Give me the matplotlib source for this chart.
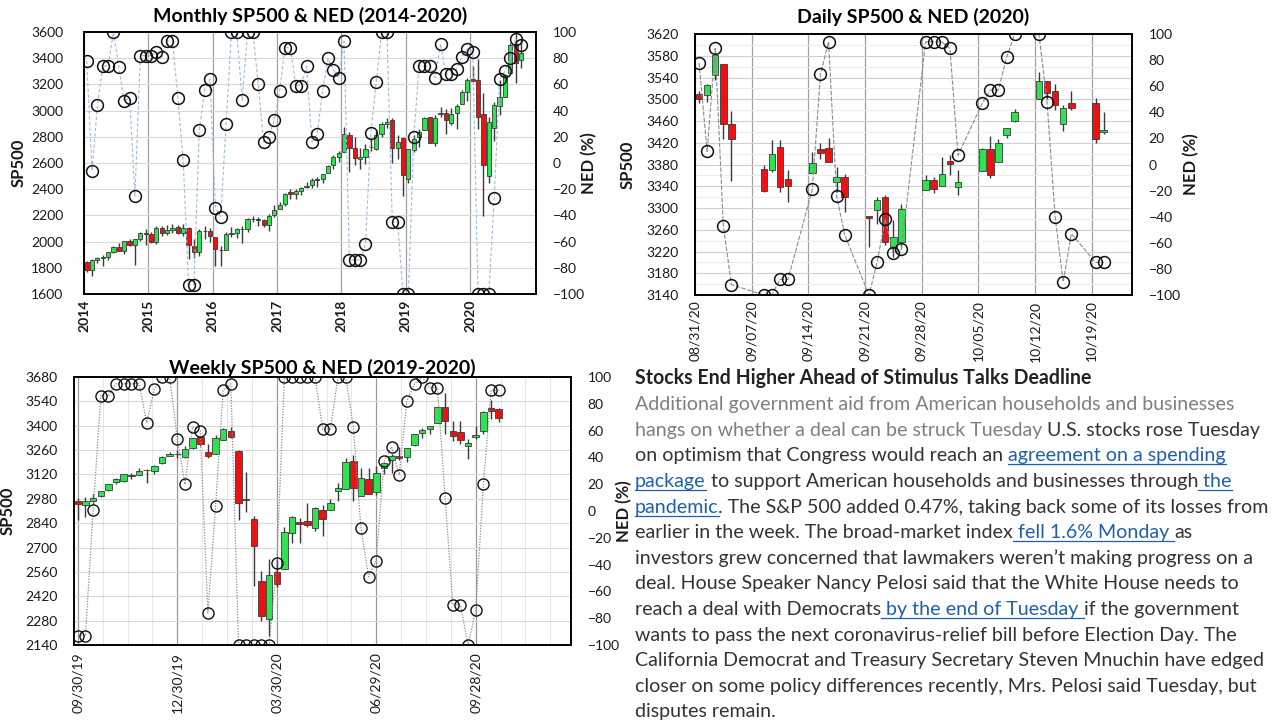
import numpy as np
import matplotlib
matplotlib.use('Agg')
import matplotlib.pyplot as plt
from matplotlib.lines import Line2D

plt.rcParams['font.family'] = ['Lato', 'DejaVu Sans']

# ---------------- data ----------------
# monthly S&P 500, Jan 2014 .. Oct 2020
m_years = ['2014', '2015', '2016', '2017', '2018', '2019', '2020']
m_open = [1845.9, 1782.7, 1857.7, 1874.0, 1884.4, 1923.9, 1962.3, 1929.8, 2004.1, 1971.4, 2018.2, 2065.8,
          2058.9, 1996.7, 2105.2, 2067.6, 2085.9, 2108.6, 2067.0, 2104.5, 1970.1, 1919.7, 2080.8, 2082.9,
          2038.2, 1936.9, 1937.1, 2056.6, 2067.2, 2093.9, 2099.3, 2173.2, 2171.3, 2164.3, 2128.7, 2200.2,
          2251.6, 2285.6, 2380.1, 2362.3, 2388.5, 2415.6, 2431.4, 2477.1, 2474.4, 2521.2, 2583.2, 2645.1,
          2683.7, 2816.5, 2715.2, 2633.5, 2643.0, 2718.7, 2705.0, 2821.2, 2897.0, 2926.3, 2717.6, 2790.5,
          2477.0, 2702.3, 2798.2, 2848.6, 2952.3, 2751.5, 2971.4, 2980.3, 2909.0, 2983.7, 3050.7, 3143.9,
          3244.7, 3235.7, 2974.3, 2498.1, 2869.1, 3038.8, 3105.9, 3288.3, 3507.4, 3385.9]
m_high = [1850.8, 1867.9, 1884.0, 1897.3, 1924.0, 1968.2, 1991.4, 2005.0, 2019.3, 2018.2, 2075.8, 2093.6,
          2072.4, 2119.6, 2117.5, 2125.9, 2134.7, 2129.9, 2132.8, 2112.7, 2020.9, 2094.3, 2116.5, 2104.3,
          2038.2, 1963.0, 2072.2, 2111.1, 2103.5, 2120.6, 2177.1, 2193.8, 2187.9, 2169.6, 2214.1, 2277.5,
          2301.0, 2371.5, 2401.0, 2398.2, 2418.7, 2453.8, 2484.0, 2490.9, 2519.4, 2583.0, 2657.7, 2695.0,
          2872.9, 2836.0, 2801.9, 2717.5, 2742.2, 2791.5, 2848.0, 2916.5, 2940.9, 2939.9, 2815.2, 2800.2,
          2709.0, 2813.5, 2860.3, 2949.5, 2954.1, 2964.2, 3028.0, 3013.6, 3022.0, 3050.1, 3154.3, 3247.9,
          3337.8, 3393.5, 3136.7, 2954.9, 3068.7, 3233.1, 3280.0, 3514.8, 3588.1, 3549.9]
m_low = [1770.5, 1737.9, 1834.4, 1814.4, 1859.8, 1916.0, 1930.7, 1904.8, 1964.0, 1820.7, 2001.0, 1972.6,
         1988.1, 1980.9, 2039.7, 2048.4, 2067.9, 2056.3, 2044.0, 1867.0, 1871.9, 1893.7, 2019.4, 1993.3,
         1812.3, 1810.1, 1937.1, 2033.8, 2025.9, 1991.7, 2074.0, 2147.6, 2119.1, 2114.7, 2083.8, 2187.4,
         2245.1, 2271.7, 2322.3, 2329.0, 2352.7, 2405.7, 2407.7, 2417.4, 2446.6, 2520.4, 2557.5, 2605.5,
         2682.4, 2532.7, 2585.9, 2553.8, 2594.6, 2692.0, 2699.0, 2796.3, 2864.1, 2603.5, 2631.1, 2346.6,
         2444.0, 2681.8, 2722.3, 2848.6, 2750.5, 2728.8, 2952.2, 2822.1, 2891.9, 2855.9, 3050.7, 3070.3,
         3214.6, 2855.8, 2191.9, 2447.5, 2766.6, 2965.7, 3101.2, 3284.5, 3209.5, 3323.7]
m_close = [1782.6, 1859.5, 1872.3, 1884.0, 1923.6, 1960.2, 1930.7, 2003.4, 1972.3, 2018.1, 2067.6, 2058.9,
           1995.0, 2104.5, 2067.9, 2085.5, 2107.4, 2063.1, 2103.8, 1972.2, 1920.0, 2079.4, 2080.4, 2043.9,
           1940.2, 1932.2, 2059.7, 2065.3, 2097.0, 2098.9, 2173.6, 2171.0, 2168.3, 2126.2, 2199.0, 2238.8,
           2278.9, 2363.6, 2362.7, 2384.2, 2411.8, 2423.4, 2470.3, 2471.7, 2519.4, 2575.3, 2647.6, 2673.6,
           2823.8, 2713.8, 2640.9, 2648.1, 2705.3, 2718.4, 2816.3, 2901.5, 2914.0, 2711.7, 2760.2, 2506.9,
           2704.1, 2784.5, 2834.4, 2945.8, 2752.1, 2941.8, 2980.4, 2926.5, 2976.7, 3037.6, 3141.0, 3230.8,
           3225.5, 2954.2, 2584.6, 2912.4, 3044.3, 3100.3, 3271.1, 3500.3, 3363.0, 3443.1]
m_ned = [78, -6, 44, 74, 74, 100, 73, 47, 50, -25, 82, 82,
         82, 85, 81, 93, 93, 50, 2, -93, -93, 25, 56, 64,
         -34, -41, 30, 100, 100, 48, 100, 100, 60, 16, 20, 33,
         55, 88, 88, 59, 59, 74, 16, 22, 55, 80, 71, 65,
         93, -74, -74, -74, -62, 23, 62, 100, 100, -45, -45, -100,
         -100, 20, 74, 74, 74, 65, 91, 68, 68, 72, 81, 87,
         85, -100, -100, -100, -27, 64, 70, 80, 95, 90]

# daily S&P 500, 08/31/20 .. 10/20/20
d_dates = ['2020-08-31', '2020-09-01', '2020-09-02', '2020-09-03', '2020-09-04',
           '2020-09-08', '2020-09-09', '2020-09-10', '2020-09-11',
           '2020-09-14', '2020-09-15', '2020-09-16', '2020-09-17', '2020-09-18',
           '2020-09-21', '2020-09-22', '2020-09-23', '2020-09-24', '2020-09-25',
           '2020-09-28', '2020-09-29', '2020-09-30', '2020-10-01', '2020-10-02',
           '2020-10-05', '2020-10-06', '2020-10-07', '2020-10-08', '2020-10-09',
           '2020-10-12', '2020-10-13', '2020-10-14', '2020-10-15', '2020-10-16',
           '2020-10-19', '2020-10-20']
d_open = [3509.7, 3507.4, 3543.8, 3564.7, 3453.6, 3371.9, 3369.8, 3412.6, 3352.7, 3363.6, 3407.7, 3411.2,
          3346.9, 3357.4, 3285.6, 3295.8, 3320.1, 3226.1, 3236.7, 3333.9, 3350.9, 3341.2, 3385.9, 3338.9,
          3367.3, 3408.7, 3384.6, 3434.3, 3459.7, 3500.0, 3534.0, 3515.5, 3453.7, 3493.5, 3493.7, 3439.4]
d_high = [3514.8, 3528.0, 3588.1, 3564.9, 3479.2, 3380.0, 3424.8, 3425.6, 3369.0, 3402.9, 3419.5, 3428.9,
          3375.2, 3362.3, 3285.6, 3320.3, 3323.4, 3278.7, 3306.9, 3360.7, 3357.9, 3393.6, 3397.2, 3369.1,
          3409.6, 3431.6, 3426.3, 3447.3, 3482.3, 3549.9, 3534.0, 3527.9, 3489.1, 3515.8, 3502.4, 3476.9]
d_low = [3493.5, 3494.6, 3535.2, 3427.4, 3349.6, 3329.3, 3366.8, 3329.3, 3310.5, 3363.6, 3389.2, 3384.5,
         3328.8, 3292.4, 3229.1, 3271.0, 3232.6, 3209.5, 3228.4, 3332.9, 3327.5, 3340.5, 3361.4, 3323.7,
         3367.3, 3354.5, 3384.6, 3428.2, 3458.1, 3499.6, 3500.9, 3480.6, 3441.4, 3480.5, 3419.9, 3435.7]
d_close = [3500.3, 3526.7, 3580.8, 3455.1, 3427.0, 3331.8, 3399.0, 3339.2, 3341.0, 3383.5, 3401.2, 3385.5,
           3357.0, 3319.5, 3281.1, 3315.6, 3236.9, 3246.6, 3298.5, 3351.6, 3335.5, 3363.0, 3380.8, 3348.4,
           3408.6, 3361.0, 3419.4, 3446.8, 3477.1, 3534.2, 3511.9, 3488.7, 3483.3, 3483.8, 3426.9, 3443.1]
d_ned = [78, 10, 89, -47, -92, -100, -100, -88, -88, -19, 69, 94, -24, -54, -100, -75, -42, -68,
         -65, 94, 94, 94, 89, 7, 47, 57, 57, 82, 100, 100, 48, -40, -90, -53, -75, -75]

# weekly S&P 500, week of 09/30/19 .. week of 10/19/20
w_ticks = ['09/30/19', '12/30/19', '03/30/20', '06/29/20', '09/28/20']
w_open = [2967.1, 2944.2, 2965.8, 2996.5, 3032.1, 3079.0, 3080.3, 3117.9, 3117.4, 3143.9, 3141.9, 3183.6,
          3226.1, 3240.1, 3217.6, 3271.1, 3333.1, 3247.2, 3235.7, 3318.3, 3369.0, 3257.6, 2974.3, 2863.9,
          2508.6, 2290.7, 2559.0, 2578.3, 2782.5, 2845.6, 2854.7, 2815.0, 2915.5, 2913.9, 3025.2, 3038.8,
          3199.9, 2993.8, 3094.4, 3018.6, 3155.3, 3205.1, 3224.3, 3219.8, 3288.3, 3356.0, 3380.9, 3418.1,
          3509.7, 3371.9, 3363.6, 3285.6, 3333.9, 3367.3, 3500.0, 3493.7]
w_high = [2983.9, 2993.3, 3008.3, 3027.4, 3066.9, 3097.8, 3120.5, 3127.6, 3154.3, 3150.6, 3176.3, 3225.6,
          3247.9, 3258.1, 3283.0, 3329.9, 3337.8, 3293.5, 3348.0, 3385.1, 3393.5, 3259.8, 3136.7, 2882.6,
          2563.0, 2637.0, 2631.8, 2818.6, 2879.2, 2871.6, 2954.9, 2932.2, 2945.8, 2980.3, 3068.7, 3211.7,
          3233.1, 3155.5, 3155.3, 3165.8, 3190.0, 3238.3, 3279.3, 3272.0, 3352.0, 3387.9, 3400.0, 3509.2,
          3588.1, 3425.6, 3428.9, 3323.4, 3397.2, 3482.3, 3549.9, 3502.4]
w_low = [2855.9, 2873.9, 2952.9, 2991.2, 3023.2, 3065.9, 3078.3, 3091.4, 3115.3, 3070.3, 3121.5, 3182.7,
         3226.1, 3212.0, 3214.6, 3263.5, 3281.5, 3214.6, 3235.7, 3315.5, 3328.5, 2855.8, 2901.5, 2478.9,
         2280.5, 2191.9, 2473.4, 2574.6, 2727.1, 2727.1, 2820.8, 2797.9, 2766.6, 2913.9, 2970.0, 3038.8,
         2965.7, 2993.8, 3007.4, 3000.1, 3125.0, 3127.7, 3200.7, 3191.0, 3284.5, 3327.0, 3354.7, 3418.1,
         3349.6, 3310.5, 3292.4, 3209.5, 3323.7, 3354.5, 3441.4, 3419.9]
w_close = [2952.0, 2970.3, 2986.2, 3022.6, 3066.9, 3093.1, 3120.5, 3110.3, 3141.0, 3145.9, 3168.8, 3221.2,
           3240.0, 3234.9, 3265.4, 3329.6, 3295.5, 3225.5, 3327.7, 3380.2, 3337.8, 2954.2, 2972.4, 2711.0,
           2304.9, 2541.5, 2488.7, 2789.8, 2874.6, 2836.7, 2830.7, 2929.8, 2863.7, 2955.5, 3044.3, 3193.9,
           3041.3, 3097.7, 3009.1, 3130.0, 3185.0, 3224.7, 3215.6, 3271.1, 3351.3, 3372.9, 3397.2, 3508.0,
           3427.0, 3341.0, 3319.5, 3298.5, 3348.4, 3477.1, 3483.8, 3443.1]
w_ned = [-93, -93, 1, 86, 86, 95, 95, 95, 95, 66, 91, 100, 100, 54, 20, 63, 60, -76, 4, 90, 95,
         -100, -100, -100, -100, -100, -39, 100, 100, 100, 100, 100, 61, 61, 100, 100, 63, -13, -49,
         -37, 37, 48, 27, 82, 95, 100, 92, 92, 10, -70, -70, -100, -74, 20, 90, 90]

GREEN = '#2fe24f'
RED = '#ee1111'
EDGE = '#3a3a3a'
TXT = '#1a1a1a'

W, H = 1280, 720
fig = plt.figure(figsize=(12.8, 7.2), dpi=100)


def px_axes(l, t, r, b):
    return fig.add_axes([l / W, 1 - b / H, (r - l) / W, (b - t) / H])


def candles(ax, x, o, h, l, c, w, minh):
    o, h, l, c = map(np.asarray, (o, h, l, c))
    up = c >= o
    ax.vlines(x, l, h, color=EDGE, lw=1.0, zorder=2)
    bottom = np.minimum(o, c)
    height = np.maximum(np.abs(c - o), minh)
    ax.bar(x, height, w, bottom, color=np.where(up, GREEN, RED),
           edgecolor=EDGE, linewidth=0.6, zorder=3)


def frame(ax, ax2, lpad, rpad, xpad, bold_x=False):
    for a in (ax, ax2):
        for s in a.spines.values():
            s.set_color('black')
            s.set_linewidth(1.2)
    ax.tick_params(axis='y', length=0, labelsize=10, pad=lpad, colors=TXT)
    ax.tick_params(axis='x', length=0, labelsize=10, pad=xpad, colors=TXT)
    ax2.tick_params(axis='y', length=0, labelsize=10, pad=rpad, colors=TXT)
    ax2.set_ylim(-100, 100)
    ax2.set_yticks(range(-100, 101, 20))
    ax.set_axisbelow(True)
    if bold_x:
        for t in ax.get_xticklabels():
            t.set_fontweight('bold')


def labels(ax, ax2, lx, rx):
    ax.set_ylabel('SP500', fontsize=12, fontweight='bold', color=TXT)
    ax.yaxis.set_label_coords(lx, 0.5)
    ax2.set_ylabel('NED (%)', fontsize=12, fontweight='bold', color=TXT)
    ax2.yaxis.set_label_coords(rx, 0.5)


# ---------------- monthly ----------------
ax = px_axes(84, 32, 536, 294)
xm = np.arange(len(m_close)) + 0.5
candles(ax, xm, m_open, m_high, m_low, m_close, 0.78, 4)
ax.set_xlim(0, 84.3)
ax.set_ylim(1600, 3600)
ax.set_yticks(range(1600, 3601, 200))
ax.set_xticks(range(0, 73, 12))
ax.set_xticklabels(m_years, rotation=90)
ax.yaxis.grid(True, color='#d9d9d9', lw=0.8)
ax.xaxis.grid(True, color='#a0a0a0', lw=0.9)
ax.set_title('Monthly SP500 & NED (2014-2020)', fontsize=14, fontweight='bold', pad=7)
ax2 = ax.twinx()
ax2.plot(xm, m_ned, ls=(0, (3, 2)), color='#9dbbe0', lw=0.8, marker='o', mfc='none',
         mec='#111111', ms=8.5, mew=1.1)
frame(ax, ax2, 15, 12, 4, bold_x=True)
labels(ax, ax2, -0.128, 1.10)

# ---------------- daily ----------------
ax = px_axes(695, 34, 1132, 295)
d0 = np.datetime64('2020-08-31')
xd = (np.array(d_dates, dtype='datetime64[D]') - d0).astype(int) + 0.5
candles(ax, xd, d_open, d_high, d_low, d_close, 0.8, 1.2)
ax.set_xlim(0, 54)
ax.set_ylim(3140, 3620)
ax.set_yticks(range(3140, 3621, 40))
ax.set_yticks(range(3160, 3621, 40), minor=True)
tick_days = np.arange(0, 50, 7)
tick_dates = (d0 + tick_days).astype(object)
ax.set_xticks(tick_days)
ax.set_xticklabels([t.strftime('%m/%d/%y') for t in tick_dates], rotation=90)
ax.yaxis.grid(True, which='major', color='#d0d0d0', lw=0.8)
ax.yaxis.grid(True, which='minor', color='#ececec', lw=0.7)
ax.tick_params(axis='y', which='minor', length=0)
ax.xaxis.grid(True, color='#a0a0a0', lw=0.9)
ax.set_title('Daily SP500 & NED (2020)', fontsize=14, fontweight='bold', pad=8)
ax2 = ax.twinx()
ax2.plot(xd, d_ned, ls=(0, (4, 1.5)), color='#8c8c8c', lw=0.8, marker='o', mfc='none',
         mec='#111111', ms=8.5, mew=1.1)
frame(ax, ax2, 12, 12, 4)
labels(ax, ax2, -0.137, 1.116)

# ---------------- weekly ----------------
ax = px_axes(74, 377, 571, 645)
xw = np.arange(len(w_close))
candles(ax, xw, w_open, w_high, w_low, w_close, 0.85, 4)
ax.set_xlim(-0.5, 64.45)
ax.set_ylim(2140, 3680)
ax.set_yticks(range(2140, 3681, 140))
ax.set_xticks(range(0, 53, 13))
ax.set_xticklabels(w_ticks, rotation=90)
ax.set_xticks(np.arange(0, 64, 3.25), minor=True)
ax.tick_params(axis='x', which='minor', length=0)
ax.yaxis.grid(True, color='#d9d9d9', lw=0.8)
ax.xaxis.grid(True, which='minor', color='#e6e6e6', lw=0.7)
ax.xaxis.grid(True, which='major', color='#999999', lw=0.9)
ax.set_title('Weekly SP500 & NED (2019-2020)', fontsize=14, fontweight='bold', pad=0)
ax2 = ax.twinx()
ax2.plot(xw, w_ned, ls=(0, (1, 1.2)), color='#8c8c8c', lw=0.9, marker='o', mfc='none',
         mec='#111111', ms=8, mew=1.0)
frame(ax, ax2, 12, 12, 5)
labels(ax, ax2, -0.117, 1.091)

# ---------------- article text ----------------
GRAY, BODY, LINK = '#7f7f7f', '#333333', '#1f5fae'
article_title = 'Stocks End Higher Ahead of Stimulus Talks Deadline'
article_lines = [
    [('Additional government aid from American households and businesses', 'g')],
    [('hangs on whether a deal can be struck Tuesday', 'g'), (' U.S. stocks rose Tuesday', 'b')],
    [('on optimism that Congress would reach an ', 'b'), ('agreement on a spending', 'l')],
    [('package', 'l'), (' to support American households and businesses through', 'b'), (' the', 'l')],
    [('pandemic', 'l'), ('. The S&P 500 added 0.47%, taking back some of its losses from', 'b')],
    [('earlier in the week. The broad-market index', 'b'), (' fell 1.6% Monday ', 'l'), ('as', 'b')],
    [('investors grew concerned that lawmakers weren\u2019t making progress on a', 'b')],
    [('deal. House Speaker Nancy Pelosi said that the White House needs to', 'b')],
    [('reach a deal with Democrats', 'b'), (' by the end of Tuesday ', 'l'), ('if the government', 'b')],
    [('wants to pass the next coronavirus-relief bill before Election Day. The', 'b')],
    [('California Democrat and Treasury Secretary Steven Mnuchin have edged', 'b')],
    [('closer on some policy differences recently, Mrs. Pelosi said Tuesday, but', 'b')],
    [('disputes remain.', 'b')],
]

renderer = fig.canvas.get_renderer()


def text_width(s, **kw):
    t1 = fig.text(0, 0, s + '|', **kw)
    t2 = fig.text(0, 0, '|', **kw)
    w = t1.get_window_extent(renderer).width - t2.get_window_extent(renderer).width
    t1.remove()
    t2.remove()
    return w


# fit font sizes to the widths of the lines in the picture
ref = ''.join(s for s, _ in article_lines[4])
body_size = 12 * 632 / text_width(ref, fontsize=12)
title_size = 12 * 453 / text_width(article_title, fontsize=12, fontweight='bold')

x0 = 635
y_first = 378.5
step = 25.6
fig.text(x0 / W, 1 - (y_first + 6) / H, article_title, fontsize=title_size,
         fontweight='bold', color='#222222', va='baseline', ha='left')
colors = {'g': GRAY, 'b': BODY, 'l': LINK}
for k, line in enumerate(article_lines, start=1):
    base = y_first + step * k + 6
    x = x0
    for s, kind in line:
        fig.text(x / W, 1 - base / H, s, fontsize=body_size, color=colors[kind],
                 va='baseline', ha='left')
        w = text_width(s, fontsize=body_size)
        if kind == 'l':
            fig.add_artist(Line2D([x / W, (x + w) / W], [1 - (base + 3) / H] * 2,
                                  color=LINK, lw=0.9))
        x += w

fig.savefig('out.png', dpi=100)
